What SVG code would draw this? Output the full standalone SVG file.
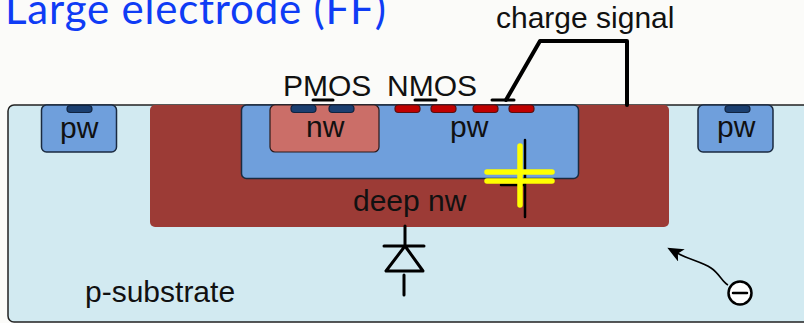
<svg xmlns="http://www.w3.org/2000/svg" width="804" height="323" viewBox="0 0 804 323">
<style>
text{font-family:"Liberation Sans",Arial,sans-serif;fill:#111;font-size:30px}
.pw{fill:#6f9fdc;stroke:#1a2a40;stroke-width:1.5}
.pc{fill:#1b3f70;stroke:#10233f;stroke-width:1.2}
.nc{fill:#c00000;stroke:#5a1010;stroke-width:1.2}
.w{fill:none;stroke:#000;stroke-linecap:round;stroke-linejoin:round}
</style>
<defs><marker id="ah" markerWidth="16" markerHeight="14" refX="5" refY="7" orient="auto" markerUnits="userSpaceOnUse" viewBox="0 0 16 14"><path d="M0 0 16 7 0 14 4 7Z" fill="#000"/></marker></defs>
<rect width="804" height="323" fill="#fbfbf9"/>
<text x="5" y="24" style="font-family:'Lato','Noto Sans',sans-serif;fill:#0f3cf5;font-size:42px;letter-spacing:.8px">Large electrode (FF)</text>
<g id="substrate"><rect x="8" y="105" width="810" height="217" rx="6" fill="#d2eaf1" stroke="#222" stroke-width="1.5"/><text x="85" y="302">p-substrate</text></g>
<g id="deep-nw"><rect x="150" y="105" width="519" height="122" rx="5" fill="#9c3b36"/><text x="353" y="211">deep nw</text></g>
<g id="pw-center"><rect class="pw" x="241.500" y="105" width="337" height="73.500" rx="5"/><text x="450" y="137">pw</text></g>
<g id="nw"><rect x="270" y="105" width="109" height="47" rx="5" fill="#cb6e68" stroke="#2a1a1a" stroke-width="1.2"/><text x="306" y="137">nw</text></g>
<g id="pw-left"><rect class="pw" x="41.500" y="105" width="75" height="47" rx="5"/><rect class="pc" x="67" y="105.500" width="25" height="7" rx="3.500"/><text x="60" y="138">pw</text></g>
<g id="pw-right"><rect class="pw" x="698" y="105" width="75" height="47" rx="5"/><rect class="pc" x="725" y="105.500" width="25" height="7" rx="3.500"/><text x="717" y="137">pw</text></g>
<g id="pmos"><rect class="pc" x="291" y="105" width="25" height="7.500" rx="3.500"/><rect class="pc" x="329" y="105" width="25" height="7.500" rx="3.500"/><path class="w" stroke-width="3" d="M313 100H333"/><text x="283" y="96">PMOS</text></g>
<g id="nmos"><rect class="nc" x="395" y="105" width="25" height="7.500" rx="3.500"/><rect class="nc" x="431" y="105" width="25" height="7.500" rx="3.500"/><rect class="nc" x="473" y="105" width="25" height="7.500" rx="3.500"/><rect class="nc" x="509" y="105" width="25" height="7.500" rx="3.500"/><path class="w" stroke-width="3" d="M415 100H436"/><text x="387" y="96">NMOS</text></g>
<g id="connectors">
<path class="w" stroke-width="3" d="M492 100H514"/>
<path class="w" stroke-width="4" d="M506 100 540 41H627V105"/>
<path class="w" stroke-width="2.500" d="M525 140V217M501 185H524"/>
<path class="w" stroke-width="5.500" style="stroke:#ffff00" d="M520 146V205M487 172H552M487 181H552"/>
<path class="w" stroke-width="3" d="M405 226V245M384 246H424M386 271H423L405 246ZM404 275V295"/>
<path fill="none" stroke="#000" stroke-width="1.600" d="M728 285C722 282 720 274 711 268 702 262 690 260 677 253" marker-end="url(#ah)"/>
</g>
<text x="496" y="28">charge signal</text>
<g id="electron"><circle cx="740" cy="293" r="11.500" fill="#fff" stroke="#000" stroke-width="2.500"/><path class="w" stroke-width="2.500" d="M733 293H747"/></g>
</svg>
